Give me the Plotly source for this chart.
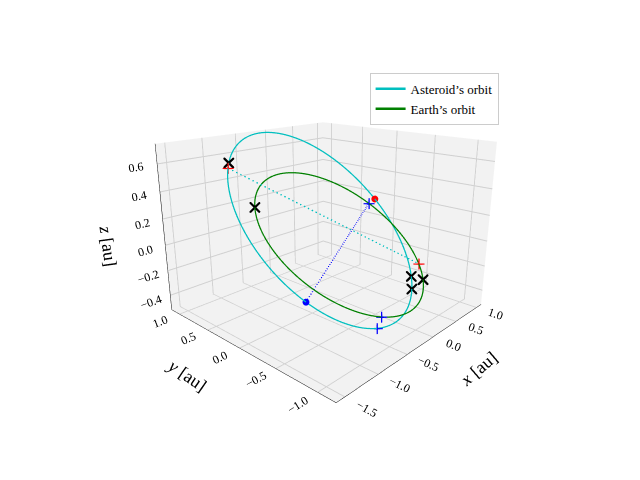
import numpy as np
import plotly.graph_objects as go

# Orbital elements (ecliptic frame, fitted to picture), shown in equatorial frame
obliquity_deg = 23.44
earth_radius_au = 1.0
ast_a, ast_e, ast_i, ast_node, ast_peri = 1.142, 0.196, 9.1, 358.4, 295.6

# Marker positions as anomalies (degrees): asteroid eccentric anomaly, Earth longitude
ast_black_x = [198, 19, 10]
earth_black_x = [140, 308]
ast_red_plus = [202]
earth_red_plus = [322]
ast_red_dot = [70]
earth_blue_plus = [246, 17]
ast_blue_plus = [322]
ast_blue_dot = [280]
x_ticks = [-1.5, -1.0, -0.5, 0.0, 0.5, 1.0]
y_ticks = [-1.0, -0.5, 0.0, 0.5, 1.0]
z_ticks = [-0.4, -0.2, 0.0, 0.2, 0.4, 0.6]

eps = np.radians(obliquity_deg)
R_eq = np.array([[1, 0, 0], [0, np.cos(eps), -np.sin(eps)], [0, np.sin(eps), np.cos(eps)]])

def Rz(t):
    return np.array([[np.cos(t), -np.sin(t), 0], [np.sin(t), np.cos(t), 0], [0, 0, 1]])

def asteroid(E_deg):
    E = np.radians(np.atleast_1d(np.asarray(E_deg, float)))
    i, O, w = np.radians([ast_i, ast_node, ast_peri])
    Rx = np.array([[1, 0, 0], [0, np.cos(i), -np.sin(i)], [0, np.sin(i), np.cos(i)]])
    xo = ast_a*(np.cos(E) - ast_e)
    yo = ast_a*np.sqrt(1 - ast_e**2)*np.sin(E)
    return R_eq @ Rz(O) @ Rx @ Rz(w) @ np.vstack([xo, yo, 0*xo])

def earth(th_deg):
    th = np.radians(np.atleast_1d(np.asarray(th_deg, float)))
    return R_eq @ np.vstack([earth_radius_au*np.cos(th), earth_radius_au*np.sin(th), 0*th])

full = np.linspace(0, 360, 361)
A = asteroid(full)
G = earth(full)

def pts(P):
    return dict(x=P[0], y=P[1], z=P[2])

def cat(*Ps):
    return np.hstack(Ps)

fig = go.Figure()
fig.add_trace(go.Scatter3d(**pts(A), mode="lines", line=dict(color="#00bfbf", width=2.5), name="Asteroid’s orbit"))
fig.add_trace(go.Scatter3d(**pts(G), mode="lines", line=dict(color="green", width=2.5), name="Earth’s orbit"))
fig.add_trace(go.Scatter3d(**pts(cat(asteroid(ast_red_plus), earth(earth_red_plus))), mode="lines",
                           line=dict(color="#00bfbf", width=2.5, dash="dash"), showlegend=False))
fig.add_trace(go.Scatter3d(**pts(cat(asteroid(ast_blue_dot), earth(earth_blue_plus[1:]))), mode="lines",
                           line=dict(color="blue", width=2.5, dash="dash"), showlegend=False))
fig.add_trace(go.Scatter3d(**pts(asteroid(ast_red_dot)), mode="markers", marker=dict(symbol="circle", color="red", size=4), showlegend=False))
fig.add_trace(go.Scatter3d(**pts(cat(asteroid(ast_red_plus), earth(earth_red_plus))), mode="markers",
                           marker=dict(symbol="cross", color="red", size=6), showlegend=False))
fig.add_trace(go.Scatter3d(**pts(cat(asteroid(ast_black_x), earth(earth_black_x))), mode="markers",
                           marker=dict(symbol="x", color="black", size=2.5), showlegend=False))
fig.add_trace(go.Scatter3d(**pts(cat(earth(earth_blue_plus), asteroid(ast_blue_plus))), mode="markers",
                           marker=dict(symbol="cross", color="blue", size=6), showlegend=False))
fig.add_trace(go.Scatter3d(**pts(asteroid(ast_blue_dot)), mode="markers", marker=dict(symbol="circle", color="blue", size=4), showlegend=False))

def fmt(v):
    return [f"{t:.1f}".replace("-", "−") for t in v]

axstyle = dict(backgroundcolor="#f2f2f2", gridcolor="#d0d0d0", showbackground=True, zeroline=False,
               tickfont=dict(size=12, family="Liberation Serif", color="black"), linecolor="black")
fig.update_layout(
    width=640, height=480, paper_bgcolor="white", margin=dict(l=0, r=0, t=0, b=0),
    font=dict(family="Liberation Serif", color="black"),
    scene=dict(
        domain=dict(x=[0.05, 0.95], y=[0.08, 1.0]),
        xaxis=dict(axstyle, range=[-1.62, 1.12], tickvals=x_ticks, ticktext=fmt(x_ticks), title=dict(text="<i>x</i> [au]", font=dict(size=18))),
        yaxis=dict(axstyle, range=[-1.2, 1.15], tickvals=y_ticks, ticktext=fmt(y_ticks), title=dict(text="<i>y</i> [au]", font=dict(size=18))),
        zaxis=dict(axstyle, range=[-0.52, 0.74], tickvals=z_ticks, ticktext=fmt(z_ticks), title=dict(text="<i>z</i> [au]", font=dict(size=18))),
        aspectmode="manual", aspectratio=dict(x=1, y=1, z=0.75),
        camera=dict(eye=dict(x=-1.62, y=-1.5, z=0.72)),
    ),
    legend=dict(x=0.565, y=0.865, xanchor="left", yanchor="top", bordercolor="#cccccc", borderwidth=1, font=dict(size=13)),
)
fig.write_html("out.html")
